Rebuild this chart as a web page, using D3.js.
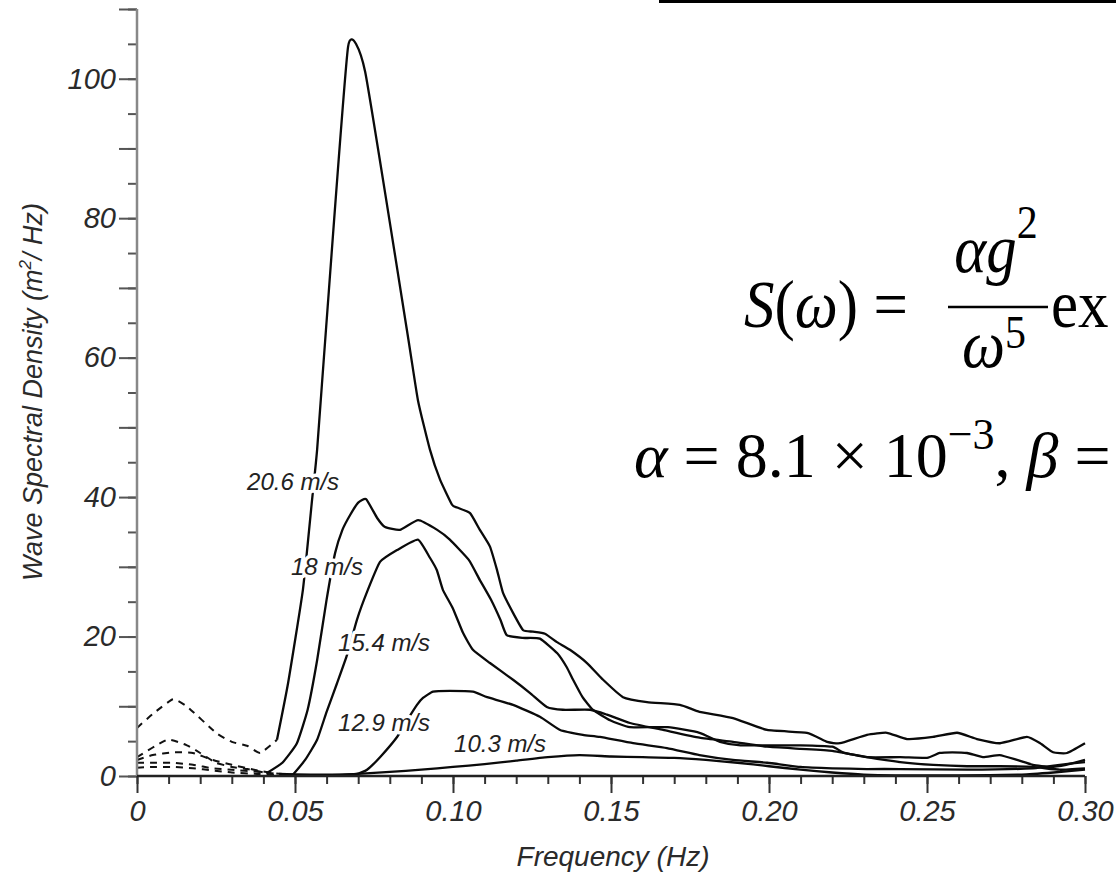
<!DOCTYPE html>
<html><head><meta charset="utf-8">
<script src="https://cdn.jsdelivr.net/npm/d3@7"></script>
<style>body{margin:0;background:#fff} svg{display:block}</style>
</head><body><svg id="c" width="1116" height="872"></svg>
<script>
// ---------- data ----------
const xTickValues = [0, 0.05, 0.10, 0.15, 0.20, 0.25, 0.30];
const xTickLabels = ["0", "0.05", "0.10", "0.15", "0.20", "0.25", "0.30"];
const yTickValues = [0, 20, 40, 60, 80, 100];
const yTickLabels = ["0", "20", "40", "60", "80", "100"];
const speedLabels = ["20.6 m/s", "18 m/s", "15.4 m/s", "12.9 m/s", "10.3 m/s"];
// label anchors in data units [frequency, density]
const labelAnchors = [[0.0494, 42.2], [0.0601, 30.0], [0.0782, 19.2], [0.0782, 7.7], [0.1149, 4.7]];

// low-frequency (dashed) parts  [Hz, m^2/Hz]
const dash206 = [[0,6.9],[0.005,8.9],[0.0114,11.0],[0.016,9.9],[0.025,6.2],[0.030,4.9],[0.035,4.3],[0.039,3.3],[0.0443,5.2]];
const dash180 = [[0,2.7],[0.0095,5.2],[0.0158,4.4],[0.020,3.3],[0.025,1.9],[0.030,1.3],[0.035,1.0],[0.041,0.4]];
const dash154 = [[0,2.3],[0.005,3.0],[0.0114,3.4],[0.0177,3.3],[0.024,2.3],[0.030,1.6],[0.037,0.9],[0.043,0.4],[0.0494,0.2]];
const dash129 = [[0,1.9],[0.005,1.9],[0.0114,1.9],[0.0177,1.6],[0.024,1.1],[0.030,0.9],[0.038,0.6],[0.045,0.3]];
const dash103 = [[0,1.2],[0.005,1.3],[0.0114,1.3],[0.0177,1.1],[0.024,0.8],[0.030,0.5],[0.038,0.3],[0.045,0.1]];

// main (solid) spectra
const line206 = [[0.0443,5.2],[0.0478,13.3],[0.0525,26.7],[0.0554,39.6],[0.057,46.8],[0.0598,64],[0.0668,104.6],[0.0722,101],[0.0854,64],[0.0889,53.9],[0.0927,46.8],[0.0959,42.5],[0.0997,38.9],[0.1013,38.5],[0.1054,37.7],[0.1085,35.3],[0.1117,32.9],[0.1139,29.6],[0.1158,26.3],[0.119,23.4],[0.1222,20.9],[0.1253,20.7],[0.1291,20.4],[0.1329,19.2],[0.137,18.1],[0.1424,16.2],[0.1475,13.8],[0.1538,11.3],[0.1614,10.6],[0.1718,10.2],[0.178,9.2],[0.1886,8.3],[0.1994,6.6],[0.212,6.2],[0.2184,4.9],[0.2225,4.7],[0.231,5.9],[0.2373,6.2],[0.2437,5.3],[0.2519,5.6],[0.2595,6.2],[0.2658,5.3],[0.2731,4.7],[0.2816,5.6],[0.2858,4.7],[0.2899,3.4],[0.2943,3.3],[0.30,4.7]];
const line180 = [[0.041,0.4],[0.046,1.9],[0.0506,4.7],[0.054,9.5],[0.057,16.6],[0.060,25.3],[0.0627,32],[0.065,35.3],[0.0674,37.4],[0.070,39.2],[0.0725,39.7],[0.076,37],[0.0785,35.7],[0.0832,35.3],[0.089,36.7],[0.095,35.3],[0.099,33.9],[0.105,31],[0.1085,28.1],[0.112,25.3],[0.115,22.4],[0.117,20.2],[0.122,19.8],[0.1275,19.7],[0.133,17.6],[0.136,15.6],[0.138,13.8],[0.141,11.3],[0.1443,9.5],[0.1497,8.0],[0.156,7.0],[0.168,7.0],[0.178,6.2],[0.1845,4.9],[0.191,4.4],[0.21,4.4],[0.22,4.2],[0.2234,3.4],[0.231,2.7],[0.2415,2.7],[0.25,2.6],[0.254,3.3],[0.258,3.4],[0.2627,3.3],[0.2677,2.7],[0.273,3.0],[0.2785,2.3],[0.2835,1.6],[0.289,1.3],[0.294,1.6],[0.30,2.3]];
const line154 = [[0.0494,0.2],[0.0532,2.3],[0.057,5.2],[0.060,9.2],[0.0633,13.3],[0.0665,17.4],[0.0696,22.4],[0.0728,26.4],[0.0769,30.7],[0.0823,32.4],[0.0889,33.9],[0.0927,31.3],[0.0949,29.5],[0.0968,26.7],[0.100,24.0],[0.1032,20.5],[0.1063,18.1],[0.1117,16.2],[0.119,13.8],[0.1244,11.9],[0.1297,9.9],[0.1348,9.5],[0.1434,9.5],[0.1487,8.8],[0.156,7.6],[0.1665,6.6],[0.178,5.5],[0.1886,4.9],[0.1994,4.2],[0.21,3.9],[0.22,3.6],[0.231,2.7],[0.2415,2.0],[0.252,1.6],[0.2627,1.4],[0.273,1.4],[0.2835,1.3],[0.292,0.9],[0.30,1.1]];
const line129 = [[0.045,0.3],[0.055,0.2],[0.065,0.2],[0.0696,0.3],[0.0728,0.9],[0.0769,2.7],[0.0823,5.6],[0.0855,8.0],[0.0886,10.2],[0.0905,11.2],[0.0937,12.1],[0.099,12.2],[0.1063,12.1],[0.1108,11.3],[0.119,10.2],[0.1275,8.5],[0.1339,6.6],[0.1411,5.9],[0.1465,5.6],[0.157,4.7],[0.1677,4.0],[0.178,3.0],[0.1886,2.3],[0.1994,1.9],[0.21,1.3],[0.22,1.1],[0.231,1.0],[0.2415,1.0],[0.2627,0.9],[0.2835,1.1],[0.292,1.6],[0.30,2.0]];
const line103 = [[0.045,0.1],[0.06,0.1],[0.07,0.3],[0.08,0.6],[0.09,0.9],[0.10,1.3],[0.11,1.7],[0.12,2.2],[0.13,2.7],[0.14,3.0],[0.15,2.8],[0.16,2.7],[0.17,2.6],[0.18,2.3],[0.19,1.9],[0.20,1.4],[0.21,0.9],[0.22,0.5],[0.23,0.2],[0.24,0.1],[0.26,0.1],[0.28,0.2],[0.29,0.5],[0.30,0.9]];

const dashedSeries = [dash206, dash180, dash154, dash129, dash103];
const solidSeries = [line206, line180, line154, line129, line103];

// ---------- drawing ----------
const svg = d3.select("#c");
svg.append("rect").attr("width", 1116).attr("height", 872).attr("fill", "#fff");

const x = d3.scaleLinear().domain([0, 0.30]).range([137, 1085]);
const y = d3.scaleLinear().domain([0, 110]).range([776, 9]);

const sans = "'Liberation Sans', Arial, Helvetica, sans-serif";
const serif = "'Liberation Serif', 'Times New Roman', Times, serif";

const line = d3.line().x(d => x(d[0])).y(d => Math.min(y(d[1]), 776)).curve(d3.curveCardinal.tension(0.55));

const g = svg.append("g");
g.selectAll("path.dash").data(dashedSeries).join("path")
  .attr("class", "dash").attr("d", line)
  .attr("fill", "none").attr("stroke", "#111").attr("stroke-width", 2)
  .attr("stroke-dasharray", "7,6");
g.selectAll("path.solid").data(solidSeries).join("path")
  .attr("class", "solid").attr("d", line)
  .attr("fill", "none").attr("stroke", "#0a0a0a").attr("stroke-width", 2.3)
  .attr("stroke-linejoin", "round");

// y axis
const yMinor = d3.axisLeft(y).tickValues(d3.range(0, 111, 5)).tickSize(9).tickFormat("");
const yMajor = d3.axisLeft(y).tickValues(d3.range(0, 111, 10)).tickSize(18).tickPadding(3)
  .tickFormat(d => { const i = yTickValues.indexOf(d); return i >= 0 ? yTickLabels[i] : ""; });
const ya1 = svg.append("g").attr("transform", "translate(137,0)").call(yMinor);
const ya2 = svg.append("g").attr("transform", "translate(137,0)").call(yMajor);
[ya1, ya2].forEach(a => { a.select(".domain").remove(); a.selectAll("line").attr("stroke", "#555").attr("stroke-width", 2); });
ya2.selectAll("text").attr("font-family", sans).attr("font-style", "italic").attr("font-size", 29).attr("fill", "#2a2a2a");
svg.append("line").attr("x1", 137).attr("x2", 137).attr("y1", y(110)).attr("y2", y(0))
  .attr("stroke", "#888").attr("stroke-width", 2.5);

// x axis
const xMinor = d3.axisBottom(x).tickValues(d3.range(0, 31, 1).map(i => i / 100)).tickSize(8).tickFormat("");
const xMajor = d3.axisBottom(x).tickValues(xTickValues).tickSize(17).tickPadding(7)
  .tickFormat((d, i) => xTickLabels[i]);
const xa1 = svg.append("g").attr("transform", "translate(0,776)").call(xMinor);
const xa2 = svg.append("g").attr("transform", "translate(0,776)").call(xMajor);
[xa1, xa2].forEach(a => { a.select(".domain").remove(); a.selectAll("line").attr("stroke", "#333").attr("stroke-width", 2); });
xa2.selectAll("text").attr("font-family", sans).attr("font-style", "italic").attr("font-size", 29).attr("fill", "#2a2a2a");
svg.append("line").attr("x1", x(0)).attr("x2", x(0.30)).attr("y1", 776).attr("y2", 776)
  .attr("stroke", "#222").attr("stroke-width", 2.5);

// axis titles
svg.append("text").attr("x", 613).attr("y", 866).attr("text-anchor", "middle")
  .attr("font-family", sans).attr("font-style", "italic").attr("font-size", 28).attr("fill", "#2a2a2a")
  .text("Frequency (Hz)");
const yt = svg.append("text").attr("transform", "translate(42,392) rotate(-90)").attr("text-anchor", "middle")
  .attr("font-family", sans).attr("font-style", "italic").attr("font-size", 27).attr("fill", "#2a2a2a");
yt.append("tspan").text("Wave Spectral Density (m");
yt.append("tspan").attr("font-size", 17).attr("dy", -11).text("2");
yt.append("tspan").attr("dy", 11).text("/ Hz)");

// curve labels
svg.selectAll("text.lbl").data(speedLabels).join("text").attr("class", "lbl")
  .attr("x", (d, i) => x(labelAnchors[i][0])).attr("y", (d, i) => y(labelAnchors[i][1]))
  .attr("text-anchor", "middle").attr("dominant-baseline", "central")
  .attr("font-family", sans).attr("font-style", "italic").attr("font-size", 24).attr("fill", "#222")
  .attr("stroke", "#fff").attr("stroke-width", 7).attr("stroke-linejoin", "round")
  .attr("paint-order", "stroke")
  .text(d => d);

// formula (cropped at the right edge)
svg.append("line").attr("x1", 659).attr("x2", 1116).attr("y1", 1.5).attr("y2", 1.5)
  .attr("stroke", "#000").attr("stroke-width", 3);
const fg = svg.append("g").attr("transform", "translate(0,307) scale(1,1.12) translate(0,-307)");
const f1 = fg.append("text").attr("x", 744).attr("y", 325).attr("font-family", serif).attr("font-size", 61).attr("fill", "#000");
f1.append("tspan").attr("font-style", "italic").text("S");
f1.append("tspan").text("(");
f1.append("tspan").attr("font-style", "italic").text("ω");
f1.append("tspan").text(") = ");
const num = fg.append("text").attr("x", 996).attr("y", 276).attr("text-anchor", "middle").attr("font-family", serif).attr("font-size", 61);
num.append("tspan").attr("font-style", "italic").text("αg");
num.append("tspan").attr("font-size", 42).attr("dy", -31).text("2");
fg.append("line").attr("x1", 948).attr("x2", 1048).attr("y1", 307).attr("y2", 307).attr("stroke", "#000").attr("stroke-width", 2.4);
const den = fg.append("text").attr("x", 994).attr("y", 361).attr("text-anchor", "middle").attr("font-family", serif).attr("font-size", 61);
den.append("tspan").attr("font-style", "italic").text("ω");
den.append("tspan").attr("font-size", 42).attr("dy", -17).text("5");
fg.append("text").attr("x", 1051).attr("y", 325).attr("font-family", serif).attr("font-size", 61).text("ex");
const f2 = svg.append("text").attr("x", 634).attr("y", 477).attr("font-family", serif).attr("font-size", 64);
f2.append("tspan").attr("font-style", "italic").text("α");
f2.append("tspan").text(" = 8.1 × 10");
f2.append("tspan").attr("font-size", 44).attr("dy", -28).text("−3");
f2.append("tspan").attr("dy", 28).text(", ");
f2.append("tspan").attr("font-style", "italic").text("β");
f2.append("tspan").text(" =");
</script></body></html>
